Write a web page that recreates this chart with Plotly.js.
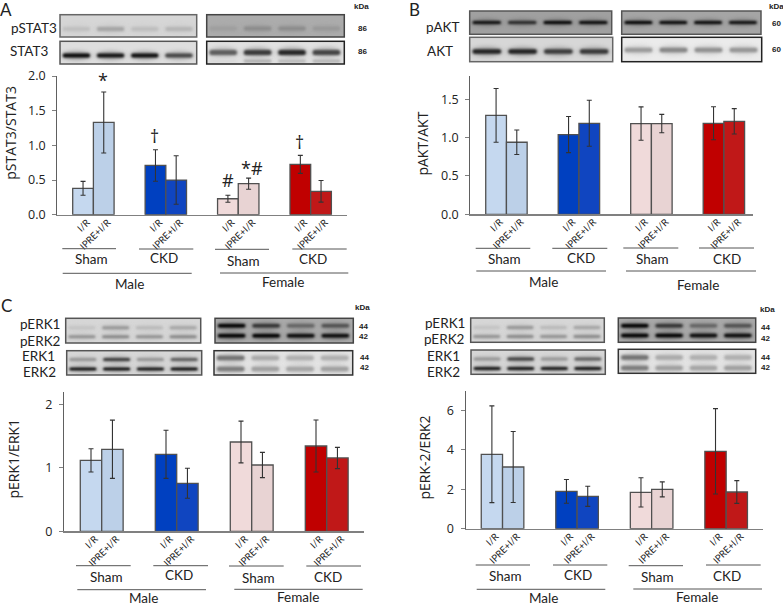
<!DOCTYPE html>
<html><head><meta charset="utf-8">
<script src="https://cdn.plot.ly/plotly-3.0.1.min.js"></script>
<style>html,body{margin:0;padding:0;background:#fff}#chart{width:783px;height:605px}</style>
</head><body><div id="chart"></div>
<script>
// ---------- data ----------
const barLabels = ['I/R','IPRE+I/R','I/R','IPRE+I/R','I/R','IPRE+I/R','I/R','IPRE+I/R'];
const barColors = ['#c5d8ef','#bcd0e8','#0040c0','#1045c0','#f0dada','#e8d3d3','#c00000','#c01818'];
const pSTAT3 = [0.38,1.33,0.71,0.50,0.23,0.447,0.726,0.337];
const pSTAT3Err = [0.10,0.44,0.227,0.35,0.05,0.08,0.13,0.156];
const pAKT = [1.29,0.94,1.04,1.187,1.183,1.183,1.187,1.213];
const pAKTErr = [0.35,0.16,0.235,0.30,0.218,0.12,0.215,0.165];
const pERK1 = [1.12,1.295,1.216,0.758,1.41,1.047,1.347,1.158];
const pERK1Err = [0.184,0.46,0.38,0.237,0.33,0.20,0.41,0.168];
const pERK2 = [3.77,3.125,1.89,1.64,1.84,1.99,3.92,1.86];
const pERK2Err = [2.45,1.795,0.60,0.507,0.74,0.38,2.16,0.575];
const barX = [0,1,3.5,4.5,7,8,10.5,11.5];

const W = 783, H = 605;
const FONT = 'Open Sans', LABEL = 'Lato';
const px = x => x / W, py = y => 1 - y / H;

// ---------- western blot panels (decorative images, drawn on a canvas) ----------
const blots = [
 [60,196.7,14.7,37,214,'#666',[[29,4,[192,165,190,182]]]],
 [206.7,344.3,14.7,37,172,'#444',[[28.5,4,[158,140,140,152]]]],
 [60,196.7,41.3,64,222,'#555',[[55.5,4,[10,20,15,70]]]],
 [206.7,344.3,41.3,64,225,'#222',[[52.5,5,[95,60,40,70]],[61,2.5,[215,170,180,175]]]],
 [469.7,611.7,11,34.3,160,'#555',[[22.5,3,[15,40,5,10]]]],
 [621.7,761,11,34.3,165,'#555',[[22.5,3,[5,10,10,15]]]],
 [469.7,612.7,37.3,61.7,215,'#666',[[51.5,4.5,[35,35,60,55]]]],
 [621.7,761.7,37.3,61.7,235,'#222',[[50,4.5,[155,135,145,150]]]],
 [65.7,200.7,318.3,343,215,'#555',[[327.7,3,[195,150,185,165]],[336.7,2.5,[140,130,140,130]]]],
 [215,353.3,318.3,343,170,'#444',[[325.7,3.5,[0,50,100,80]],[335.7,3.5,[0,0,10,10]]]],
 [66.7,201.7,350.7,375,215,'#555',[[359.5,3,[150,60,150,95]],[369,2.5,[0,0,5,0]]]],
 [214,352.7,350.7,375,228,'#333',[[358,4.5,[115,170,175,175]],[369,4.5,[125,160,165,160]]]],
 [470.7,604.3,318,342.3,215,'#555',[[327.5,3,[195,150,185,165]],[336.5,2.5,[140,130,140,130]]]],
 [618.3,755.7,318,342.3,170,'#444',[[325.7,3.5,[0,50,100,80]],[335.5,3.5,[0,0,10,10]]]],
 [471,605.3,350,374.3,215,'#555',[[359,3,[150,60,150,95]],[368.5,2.5,[0,0,5,0]]]],
 [618.3,755.7,349.3,373.3,228,'#333',[[357.5,4.5,[115,170,175,175]],[368,4.5,[125,160,165,160]]]]
];
const lanes = [0.12,0.37,0.62,0.87];
function blotImage(){
  const c = document.createElement('canvas'); c.width = W; c.height = H;
  const g = c.getContext('2d');
  blots.forEach(([x0,x1,y0,y1,bg,frame,bands])=>{
    const w = x1-x0;
    g.save(); g.beginPath(); g.rect(x0,y0,w,y1-y0); g.clip();
    g.fillStyle = `rgb(${bg},${bg},${bg})`; g.fillRect(x0,y0,w,y1-y0);
    bands.forEach(([y,h,shades])=>shades.forEach((s,i)=>{
      const cx = x0+lanes[i]*w, hw = w*0.105;
      const halo = Math.round(bg+(s-bg)*0.35);
      g.filter = 'blur(2px)';
      g.fillStyle = `rgb(${halo},${halo},${halo})`;
      g.beginPath(); g.ellipse(cx,y,hw*1.05,h*1.0,0,0,2*Math.PI); g.fill();
      g.filter = 'blur(1px)';
      g.fillStyle = `rgb(${s},${s},${s})`;
      g.beginPath(); g.roundRect(cx-hw*0.95,y-h/2,1.9*hw,h,h/2); g.fill();
    }));
    g.filter = 'none';
    g.restore();
    g.strokeStyle = frame; g.lineWidth = 1.5; g.strokeRect(x0,y0,w,y1-y0);
  });
  return c.toDataURL('image/png');
}

// ---------- panels ----------
const panels = [
 {id:'',  vals:pSTAT3,err:pSTAT3Err,x0:57.3,x1:346.7,yTop:76,yBot:214.7,xr:[-1.244,12.74],yr:[0,2.0],dt:0.5,fmt:'.1f'},
 {id:'2', vals:pAKT,err:pAKTErr,x0:470.3,x1:753.3,yTop:76,yBot:214.3,xr:[-1.245,12.42],yr:[0,1.804],dt:0.5,fmt:'.1f'},
 {id:'3', vals:pERK1,err:pERK1Err,x0:64,x1:364,yTop:392.3,yBot:531.3,xr:[-1.26,12.74],yr:[0,2.195],dt:1,fmt:'d'},
 {id:'4', vals:pERK2,err:pERK2Err,x0:465.7,x1:763,yTop:391.3,yBot:528.7,xr:[-1.23,12.73],yr:[0,6.96],dt:2,fmt:'d'}
];

const data = [], layout = {
  width:W,height:H,margin:{l:0,r:0,t:0,b:0},paper_bgcolor:'#fff',plot_bgcolor:'rgba(0,0,0,0)',
  showlegend:false,font:{family:FONT,color:'#222'},
  images:[{source:blotImage(),xref:'paper',yref:'paper',x:0,y:1,sizex:1,sizey:1,xanchor:'left',yanchor:'top',sizing:'stretch',layer:'below'}],
  annotations:[],shapes:[]
};
panels.forEach(p=>{
  data.push({type:'bar',x:barX,y:p.vals,width:1,xaxis:'x'+p.id,yaxis:'y'+p.id,
    marker:{color:barColors,line:{color:'#505050',width:1.3}},
    error_y:{type:'data',array:p.err,visible:true,color:'#333',thickness:1.1,width:2.5},
    hoverinfo:'y'});
  layout['xaxis'+p.id] = {domain:[px(p.x0),px(p.x1)],range:p.xr,anchor:'y'+p.id,tickmode:'array',tickvals:barX,ticktext:barLabels,
    tickangle:-45,ticks:'',showgrid:false,zeroline:false,showline:true,linecolor:'#808080',linewidth:1.5,ticklabelshift:4,ticklabelstandoff:-3,
    tickfont:{size:9.5,family:LABEL,color:'#222'},fixedrange:true};
  layout['yaxis'+p.id] = {domain:[py(p.yBot),py(p.yTop)],range:p.yr,anchor:'x'+p.id,tick0:0,dtick:p.dt,tickformat:p.fmt,
    ticks:'outside',ticklen:4,tickcolor:'#808080',showgrid:false,zeroline:false,showline:true,linecolor:'#606060',linewidth:1.2,ticklabelstandoff:4,
    tickfont:{size:12.5,family:FONT,color:'#222'},fixedrange:true};
});

// ---------- text ----------
function T(text,x,y,size,o={}){
  layout.annotations.push(Object.assign({text,xref:'paper',yref:'paper',x:px(x),y:py(y),xanchor:'center',yanchor:'middle',
    showarrow:false,font:{size,family:o.family||LABEL,color:'#222'}},o.angle?{textangle:o.angle}:{}));
}
const kd = t => '<b>'+t+'</b>';
function L(x0,x1,y,c){layout.shapes.push({type:'line',xref:'paper',yref:'paper',x0:px(x0),x1:px(x1),y0:py(y),y1:py(y),line:{color:c||'#555',width:1}});}

[['A',6,10],['B',414.3,10],['C',6,305.7]].forEach(a=>T(a[0],a[1],a[2],17));
[['pSTAT3',34,28.3],['STAT3',30,50.7],['pAKT',443,26.7],['AKT',439.7,51],
 ['pERK1',40.3,324.3],['pERK2',40.3,340.7],['ERK1',38.3,356],['ERK2',39,372],
 ['pERK1',445,323.3],['pERK2',445,339],['ERK1',443.7,356],['ERK2',443.7,372]].forEach(a=>T(a[0],a[1],a[2],13.5));
[['kDa',361.7,6.7],['86',362,28],['86',362,52],['kDa',776,6],['60',776.7,23.7],['60',776.7,50],
 ['kDa',362.3,307],['44',363.3,326],['42',363.3,336.7],['44',364,357.3],['42',364,368],
 ['kDa',767,309.7],['44',765.7,327],['42',765.7,338],['44',765.7,357.3],['42',765.7,368]]
 .forEach(a=>T(kd(a[0]),a[1],a[2],8,{family:'Liberation Sans'}));
[['Sham',91.7,259.3],['CKD',164.3,258.3],['Sham',243.7,260.7],['CKD',313.3,259.3],['Male',129.3,283.7],['Female',283.3,282.3],
 ['Sham',504.3,259.3],['CKD',580.7,258.3],['Sham',652,259.3],['CKD',727,259.3],['Male',543.3,281.7],['Female',698.3,285],
 ['Sham',106,576.7],['CKD',179,575.3],['Sham',258,578],['CKD',328,576.7],['Male',143.7,597.5],['Female',298,597],
 ['Sham',505.3,575.7],['CKD',578.3,574.7],['Sham',657.3,577.3],['CKD',727.3,576],['Male',543,597.5],['Female',697,597]]
 .forEach(a=>T(a[0],a[1],a[2],13.5));
[['pSTAT3/STAT3',11,132.7],['pAKT/AKT',422.3,143.3],['pERK1/ERK1',13.3,458.3],['pERK-2/ERK2',424.3,457.3]]
 .forEach(a=>T(a[0],a[1],a[2],14,{angle:-90,family:FONT}));
[['*',102.7,80],['†',154.7,135.7],['#',228,180.3],['*#',251.7,168.3],['†',299.7,141.7]].forEach(a=>T(a[0],a[1],a[2],18,{family:FONT}));

[[62.3,116,248.7],[139,193.3,249],[215,269,249.3],[292.3,346.7,249],[62.7,191.7,273.3],[220,348.3,273],
 [475.7,530.3,248.3],[552.3,607.3,248.3],[623.3,678.3,248],[699,754,248],[476.3,606,271],[626,756,271],
 [76,130.7,565.7],[153.3,208,565.7],[229,283.7,566],[306.3,361,566],[77.3,206,589.7],[234.3,362.7,589.3],
 [475.7,530,565],[553,607.3,565],[628.7,683,565.7],[706,760.7,565],[476.7,605.3,589.3],[633.3,762,589]]
 .forEach(a=>L(a[0],a[1],a[2]));

Plotly.newPlot('chart',data,layout,{displayModeBar:false,staticPlot:true});
</script></body></html>
